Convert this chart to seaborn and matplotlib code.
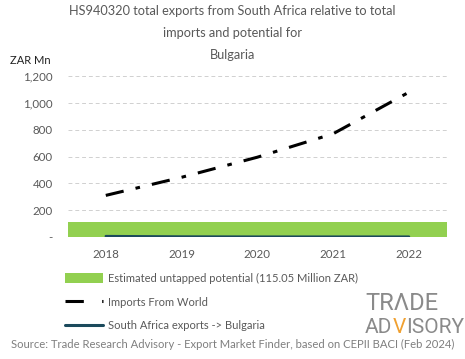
import matplotlib
matplotlib.use("Agg")
import matplotlib.pyplot as plt
import seaborn as sns
import pandas as pd
from matplotlib.patches import Patch
from matplotlib.lines import Line2D

years = [2018, 2019, 2020, 2021, 2022]
imports_world = [310, 445, 595, 770, 1080]
sa_exports = [6, 3, 2, 2, 2]
potential = 115.05
yticks = [0, 200, 400, 600, 800, 1000, 1200]
ytick_labels = ["-", "200", "400", "600", "800", "1,000", "1,200"]

title = "HS940320 total exports from South Africa relative to total\nimports and potential for\nBulgaria"
legend_labels = ["Estimated untapped potential (115.05 Million ZAR)",
                 "Imports From World",
                 "South Africa exports -> Bulgaria"]
source = "Source: Trade Research Advisory - Export Market Finder, based on CEPII BACI (Feb 2024)"

sns.set_theme(style="white")
plt.rcParams["font.family"] = ["Lato", "DejaVu Sans"]

GREEN = "#92d050"
TEAL = "#1b4a5c"
GRAY = "#595959"

df = pd.DataFrame({"year": years, "imports": imports_world, "sa": sa_exports})

fig = plt.figure(figsize=(4.65, 3.59), dpi=100)
ax = fig.add_axes([0.146, 0.340, 0.815, 0.448])

ax.axhspan(0, potential, color=GREEN, zorder=1, lw=0)
sns.lineplot(data=df, x="year", y="imports", ax=ax, color="black", lw=2.2,
             zorder=3)
ax.lines[-1].set_dashes([6, 4, 1.5, 4])
sns.lineplot(data=df, x="year", y="sa", ax=ax, color=TEAL, lw=1.8, zorder=2)

ax.set_xlim(2017.5, 2022.5)
ax.set_ylim(0, 1200)
ax.set_xticks(years)
ax.set_xticklabels([str(y) for y in years], fontsize=8.3, color=GRAY)
ax.set_yticks(yticks)
ax.set_yticklabels(ytick_labels, fontsize=8.3, color=GRAY)
ax.tick_params(axis="both", length=0, pad=9)
ax.tick_params(axis="y", pad=11)
ax.set_xlabel("")
ax.set_ylabel("")
for y in yticks[1:]:
    ax.axhline(y, color="#d0d0d0", lw=0.7, ls=(0, (4, 3)), zorder=0)
for s in ax.spines.values():
    s.set_visible(False)

fig.text(0.5, 0.985, title, ha="center", va="top", fontsize=9.2,
         color=GRAY, linespacing=2.0)
fig.text(0.022, 0.822, "ZAR Mn", fontsize=8, color="#222222")

handles = [Patch(facecolor=GREEN, edgecolor="none"),
           Line2D([0], [0], color="black", lw=2.2, dashes=[6, 6, 1.5, 6]),
           Line2D([0], [0], color=TEAL, lw=2.2)]
fig.legend(handles, legend_labels, loc="upper left",
           bbox_to_anchor=(0.118, 0.268), frameon=False, fontsize=8,
           handlelength=3.4, handleheight=1.0, labelspacing=1.15,
           handletextpad=0.45, labelcolor=GRAY)

fig.text(0.5, 0.04, source, ha="center", va="center", fontsize=8.1,
         color="#7f7f7f")

LOGO = ["Roboto", "DejaVu Sans"]
fig.text(0.785, 0.137, "TRΛDE", fontsize=17, color="#8a8a8a", family=LOGO)
fig.canvas.draw()
r = fig.canvas.get_renderer()
x0 = 0.785
y0 = 0.072
parts = [("AD", "#8a8a8a"), ("V", "#f0a030"), ("ISORY", "#8a8a8a")]
for txt, col in parts:
    t = fig.text(x0, y0, txt, fontsize=15, color=col, family=LOGO)
    bb = t.get_window_extent(renderer=r)
    x0 += bb.width / fig.bbox.width

fig.savefig("out.png", dpi=100)
